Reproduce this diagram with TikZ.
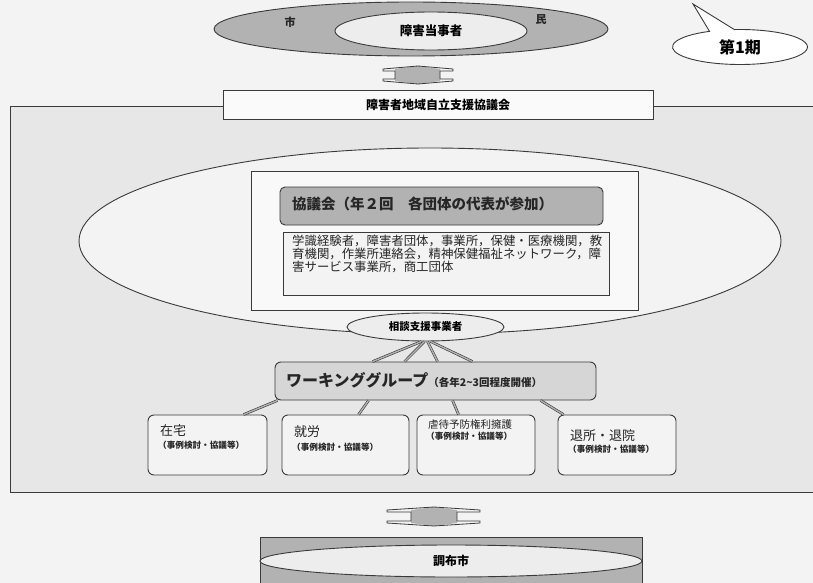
\documentclass[tikz,border=0pt]{standalone}
\usepackage{fontspec}
\setmainfont{Noto Sans CJK JP}
\usetikzlibrary{shapes.geometric,shapes.callouts,calc}
\definecolor{bg}{HTML}{F3F3F3}
\definecolor{panel}{HTML}{E7E7E7}
\definecolor{lines}{HTML}{3A3A3A}
\definecolor{midgray}{HTML}{B2B2B2}
\definecolor{wggray}{HTML}{D6D6D6}
\definecolor{lightgray}{HTML}{EDEDED}
\newcommand\fsz[1]{\fontsize{#1}{#1}\selectfont}
\tikzset{
  outline/.style={draw=lines, line width=0.9pt},
  box/.style={outline, rectangle, inner sep=0pt},
  rbox/.style={outline, rectangle, rounded corners=6pt, inner sep=0pt, fill=bg},
  oval/.style={outline, ellipse, inner sep=0pt},
  link/.style={draw=lines, line width=0.6pt, double=midgray, double distance=1.4pt},
  txt/.style={inner sep=0pt, text=black!85},
}
\begin{document}
\begin{tikzpicture}[x=1pt,y=-1pt]
\useasboundingbox (0,0) rectangle (813,583);
\fill[bg] (0,0) rectangle (813,583);

% big panel
\draw[outline, fill=panel] (10,106) rectangle (840,492);

% top citizens ellipse
\node[oval, fill=midgray, minimum width=394pt, minimum height=54pt] (shimin) at (411,29) {};
\node[txt, font=\fsz{11pt}\bfseries] (shi) at (290,22) {市};
\node[txt, font=\fsz{11pt}\bfseries] (min) at (541,20) {民};
\node[oval, fill=lightgray, minimum width=192pt, minimum height=38pt, font=\fsz{12.5pt}\bfseries] (touji) at (431,31) {障害当事者};

% top double arrow
\fill[midgray] (395,69) -- (418,66) -- (440,69) -- (440,81) -- (418,84) -- (395,81) -- cycle;
\draw[outline, line width=0.8pt] (383,69) -- (418,66) -- (453,69) -- (453,71) -- (440,71) -- (440,79) -- (453,79) -- (453,81) -- (418,84) -- (383,81) -- (383,79) -- (395,79) -- (395,71) -- (383,71) -- cycle;

% council box
\node[box, fill=white!60!bg, minimum width=430pt, minimum height=29pt, font=\fsz{12pt}\bfseries] (jiritsu) at (438,104.5) {障害者地域自立支援協議会};

% big ellipse
\node[oval, fill=bg, minimum width=702pt, minimum height=186pt] (bigoval) at (430,241) {};
\node[box, fill=white!50!bg, minimum width=387pt, minimum height=139pt] (inner) at (444.5,240.5) {};
\node[outline, rectangle, rounded corners=5pt, fill=midgray, minimum width=323pt, minimum height=38pt] (header) at (441.5,206) {};
\node[txt, anchor=west, font=\fsz{14.5pt}\bfseries] (headertxt) at (292,204) {協議会（年２回　各団体の代表が参加）};
\node[box, fill=bg, minimum width=326pt, minimum height=63pt] (members) at (446,263.5) {};
\node[txt, anchor=north west, align=left, font=\fontsize{12.4pt}{13pt}\selectfont] (memberstxt) at (292,235) {学識経験者，障害者団体，事業所，保健・医療機関，教\\育機関，作業所連絡会，精神保健福祉ネットワーク，障\\害サービス事業所，商工団体};

% consultation ellipse
\node[oval, fill=lightgray, minimum width=157pt, minimum height=28pt, font=\fsz{10.5pt}\bfseries] (soudan) at (425.5,327) {相談支援事業者};

% working group
\node[rbox, fill=wggray, minimum width=321pt, minimum height=38pt] (wg) at (435.5,381) {};
\node[txt, anchor=west] (wgtxt) at (286,380) {{\fsz{16pt}\bfseries ワーキンググループ}{\fsz{10.5pt}\bfseries（各年2\string~3回程度開催）}};

\draw[link] ([xshift=-4pt]soudan.south) -- ([xshift=98pt]wg.north west);
\draw[link] ([xshift=-1pt]soudan.south) -- ([xshift=130pt]wg.north west);
\draw[link] ([xshift=2pt]soudan.south) -- ([xshift=163pt]wg.north west);
\draw[link] ([xshift=5pt]soudan.south) -- ([xshift=198pt]wg.north west);

% four working groups
\node[rbox, minimum width=119pt, minimum height=60pt] (zaitaku) at (207.5,445) {};
\node[rbox, minimum width=127pt, minimum height=60pt] (shuro) at (345.5,445) {};
\node[rbox, minimum width=118pt, minimum height=60pt] (gyakutai) at (476,445) {};
\node[rbox, minimum width=118pt, minimum height=60pt] (taisho) at (617,445) {};

\node[txt, anchor=west, font=\fsz{13pt}] (t1) at (160,431) {在宅};
\node[txt, anchor=west, font=\fsz{8.6pt}\bfseries] (s1) at (158,445) {（事例検討・協議等）};
\node[txt, anchor=west, font=\fsz{13pt}] (t2) at (294,432) {就労};
\node[txt, anchor=west, font=\fsz{8.6pt}\bfseries] (s2) at (292,447) {（事例検討・協議等）};
\node[txt, anchor=west, font=\fsz{10.5pt}] (t3) at (428,424) {虐待予防権利擁護};
\node[txt, anchor=west, font=\fsz{8.6pt}\bfseries] (s3) at (426,436) {（事例検討・協議等）};
\node[txt, anchor=west, font=\fsz{13pt}] (t4) at (570,436) {退所・退院};
\node[txt, anchor=west, font=\fsz{8.6pt}\bfseries] (s4) at (568,449) {（事例検討・協議等）};

\draw[link] ([xshift=3pt]wg.south west) -- ([xshift=96pt]zaitaku.north west);
\draw[link] ([xshift=94pt]wg.south west) -- ([xshift=77pt]shuro.north west);
\draw[link] ([xshift=178pt]wg.south west) -- ([xshift=42pt]gyakutai.north west);
\draw[link] ([xshift=266pt]wg.south west) -- ([xshift=6pt]taisho.north west);

% bottom double arrow
\fill[midgray] (411,510) -- (434,507) -- (457,510) -- (457,523) -- (434,526) -- (411,523) -- cycle;
\draw[outline, line width=0.8pt] (387,510) -- (434,507) -- (480,510) -- (480,512) -- (457,512) -- (457,521) -- (480,521) -- (480,523) -- (434,526) -- (387,523) -- (387,521) -- (411,521) -- (411,512) -- (387,512) -- cycle;

% Chofu city
\draw[outline, fill=midgray] (260,537) rectangle (642,600);
\node[oval, fill=lightgray, minimum width=382pt, minimum height=32pt, font=\fsz{12pt}\bfseries] (chofu) at (451,561) {調布市};

% callout
\node[outline, ellipse callout, fill=white, minimum width=135pt, minimum height=35pt, callout absolute pointer={(693,4)}, callout pointer arc=22, font=\fsz{16pt}\bfseries] (ki) at (740,47) {第1期};
\end{tikzpicture}
\end{document}
